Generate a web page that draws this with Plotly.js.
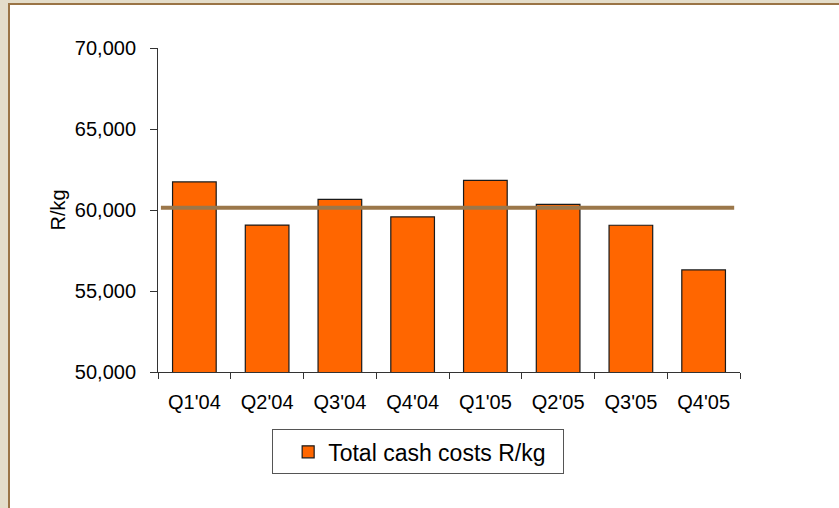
<!DOCTYPE html>
<html>
<head>
<meta charset="utf-8">
<script src="https://cdn.plot.ly/plotly-3.0.1.min.js"></script>
<style>
  html, body { margin: 0; padding: 0; background: #e4ddca; width: 839px; height: 508px; overflow: hidden; }
  #frame { position: absolute; left: 8px; top: 3px; width: 831px; height: 505px;
           border-left: 2px solid #9a7446; border-top: 2px solid #9a7446; background: #fff; }
  #chart { width: 829px; height: 503px; }
</style>
</head>
<body>
<div id="frame"><div id="chart"></div></div>
<script>
// Data
const quarters = ["Q1'04", "Q2'04", "Q3'04", "Q4'04", "Q1'05", "Q2'05", "Q3'05", "Q4'05"];
const totalCashCosts = [61730, 59070, 60660, 59570, 61830, 60350, 59060, 56300];
const averageCost = 60140;
const seriesName = "Total cash costs R/kg";
const yAxisTitle = "R/kg";
const yRange = [50000, 70000];

const font = "Liberation Sans, Arial, sans-serif";

const traces = [{
  type: 'bar',
  x: quarters,
  y: totalCashCosts,
  name: seriesName,
  marker: { color: '#ff6600', line: { color: '#1a1a1a', width: 1.2 } },
  hoverinfo: 'x+y'
}];

const layout = {
  width: 829, height: 503,
  margin: { l: 148, r: 99, t: 43, b: 136 },
  paper_bgcolor: '#ffffff', plot_bgcolor: '#ffffff',
  font: { family: font, size: 20, color: '#000' },
  bargap: 0.4,
  showlegend: true,
  legend: {
    orientation: 'h', x: 0.447, xanchor: 'center', y: -0.177, yanchor: 'top',
    bordercolor: '#555', borderwidth: 1, bgcolor: '#fff',
    indentation: 15, entrywidth: 230,
    font: { family: font, size: 23, color: '#000' }
  },
  xaxis: {
    type: 'category',
    showline: true, linecolor: '#333', linewidth: 1,
    ticks: 'outside', tickson: 'boundaries', ticklen: 6, tickcolor: '#333',
    ticklabelstandoff: 12,
    tickfont: { family: font, size: 20, color: '#000' },
    showgrid: false, zeroline: false
  },
  yaxis: {
    range: yRange, dtick: 5000, tickformat: ',d',
    showline: true, linecolor: '#333', linewidth: 1,
    ticks: 'outside', ticklen: 7, tickcolor: '#333',
    ticklabelstandoff: 10,
    tickfont: { family: font, size: 20, color: '#000' },
    showgrid: false, zeroline: false,
    title: { text: yAxisTitle, font: { family: font, size: 20, color: '#000' }, standoff: 3 }
  },
  shapes: [{
    type: 'line', xref: 'paper', yref: 'y',
    x0: 0.005, x1: 0.99, y0: averageCost, y1: averageCost,
    line: { color: '#9b774a', width: 4 }
  }]
};

Plotly.newPlot('chart', traces, layout, { displayModeBar: false, staticPlot: true });
</script>
</body>
</html>
